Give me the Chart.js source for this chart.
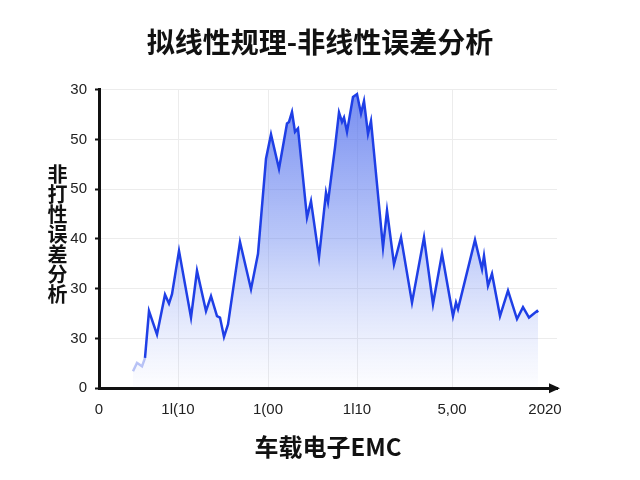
<!DOCTYPE html>
<html>
<head>
<meta charset="utf-8">
<script src="https://cdn.jsdelivr.net/npm/chart.js@4.4.1/dist/chart.umd.min.js"></script>
<style>
  body { margin: 0; background: #fff; }
  #wrap { position: relative; width: 640px; height: 480px; }
  #ylabel {
    position: absolute; left: 47px; top: 164px;
    writing-mode: vertical-rl; text-orientation: upright;
    font-family: "Noto Sans CJK SC", sans-serif; font-weight: 700;
    font-size: 20px; line-height: 1; letter-spacing: 0; color: #111;
  }
</style>
</head>
<body>
<div id="wrap">
  <canvas id="myChart"></canvas>
  <div id="ylabel">非打性误差分析</div>
</div>
<script>
// data
const xs = [34, 38, 43, 46, 50, 58, 66, 70, 73, 80, 92, 98, 107, 112, 118, 121, 125, 129, 141, 152,
  159, 167, 172, 180, 188, 190, 193, 196, 199, 208, 212, 220, 227, 229, 236, 240, 243, 245, 248, 254,
  258, 262, 265, 269, 272, 284, 288, 295, 302, 313, 325, 334, 343, 354, 357, 359, 376, 383, 385, 389,
  393, 401, 409, 418, 424, 430, 438, 439];
const ys = [3.4, 5.1, 4.4, 6.1, 15.5, 10.8, 18.8, 17.0, 18.9, 27.6, 14.2, 23.6, 15.5, 18.5, 14.5, 14.2, 10.3, 12.8, 29.4, 19.9,
  27.0, 46.1, 51.0, 44.1, 53.2, 53.5, 55.5, 51.5, 52.2, 34.3, 37.6, 26.3, 39.3, 37.4, 48.4, 55.4, 53.5, 54.4, 51.5, 58.5,
  59.1, 55.2, 57.7, 51.1, 53.7, 28.3, 35.7, 24.9, 30.3, 17.2, 30.3, 16.9, 27.0, 14.5, 17.2, 15.9, 29.8, 23.9, 26.6, 20.6,
  23.0, 14.5, 19.6, 13.9, 16.3, 14.2, 15.5, 15.2];
const xTickPos = [0, 79, 169, 258, 353, 446];
const xTickLabels = ['0', '1l(10', '1(00', '1l10', '5,00', '2020'];
const yTickLabels = ['0', '30', '30', '40', '50', '50', '30'];

const points = xs.map((x, i) => ({ x: x, y: ys[i] }));

const arrowPlugin = {
  id: 'arrow',
  afterDraw(chart) {
    const c = chart.ctx, a = chart.chartArea;
    c.save();
    c.fillStyle = '#111';
    c.beginPath();
    c.moveTo(a.right + 3, a.bottom);
    c.lineTo(a.right - 8, a.bottom - 5);
    c.lineTo(a.right - 8, a.bottom + 5);
    c.closePath();
    c.fill();
    c.restore();
  }
};

var ctx = document.getElementById('myChart').getContext('2d');
var myChart = new Chart(ctx, {
  type: 'line',
  data: {
    datasets: [{
      data: points,
      borderColor: '#1f3fe6',
      borderWidth: 2.5,
      pointRadius: 0,
      tension: 0,
      fill: 'origin',
      segment: {
        borderColor: c => c.p1.parsed.x <= 46 ? 'rgba(60,90,230,0.35)' : undefined
      },
      backgroundColor: function(context) {
        const a = context.chart.chartArea;
        if (!a) return 'rgba(80,110,240,0.3)';
        const g = context.chart.ctx.createLinearGradient(0, a.top, 0, a.bottom);
        g.addColorStop(0, 'rgba(70,100,235,0.75)');
        g.addColorStop(0.5, 'rgba(100,130,240,0.45)');
        g.addColorStop(1, 'rgba(150,170,245,0.02)');
        return g;
      }
    }]
  },
  plugins: [arrowPlugin],
  options: {
    responsive: true,
    maintainAspectRatio: false,
    animation: false,
    layout: { padding: { left: 0, right: 0, bottom: 19 } },
    plugins: {
      legend: { display: false },
      tooltip: { enabled: false },
      title: {
        display: true,
        text: '拟线性规理-非线性误差分析',
        color: '#111',
        font: { family: '"Noto Sans CJK SC", sans-serif', size: 28, weight: 'bold' },
        padding: { top: 26, bottom: 30 }
      }
    },
    scales: {
      x: {
        type: 'linear',
        min: 0,
        max: 458,
        afterBuildTicks: s => { s.ticks = xTickPos.map(v => ({ value: v })); },
        ticks: {
          autoSkip: false,
          maxRotation: 0,
          padding: 13,
          color: '#222',
          font: { family: '"Liberation Sans", sans-serif', size: 15 },
          callback: (v, i) => xTickLabels[i]
        },
        grid: {
          drawTicks: false,
          color: c => (c.index === 0 || c.index === xTickPos.length - 1) ? 'rgba(0,0,0,0)' : '#ececec',
          lineWidth: 1
        },
        border: { color: '#111', width: 3 },
        title: {
          display: true,
          text: '车载电子EMC',
          color: '#111',
          font: { family: '"Noto Sans CJK SC", sans-serif', size: 24, weight: 'bold' },
          padding: { top: 0, bottom: 0 }
        }
      },
      y: {
        min: 0,
        max: 60,
        afterFit: s => { s.width = 99; },
        ticks: {
          stepSize: 10,
          padding: 8,
          color: '#222',
          font: { family: '"Liberation Sans", sans-serif', size: 15 },
          callback: (v, i) => yTickLabels[i]
        },
        grid: {
          color: '#ececec',
          tickColor: '#111',
          tickLength: 4,
          tickWidth: 2
        },
        border: { color: '#111', width: 3 }
      },
      // empty right-hand axis, only keeps the plot clear of the right edge
      yr: {
        position: 'right',
        min: 0,
        max: 60,
        afterFit: s => { s.width = 83; },
        ticks: { display: false },
        grid: { display: false },
        border: { display: false }
      }
    }
  }
});
</script>
</body>
</html>
